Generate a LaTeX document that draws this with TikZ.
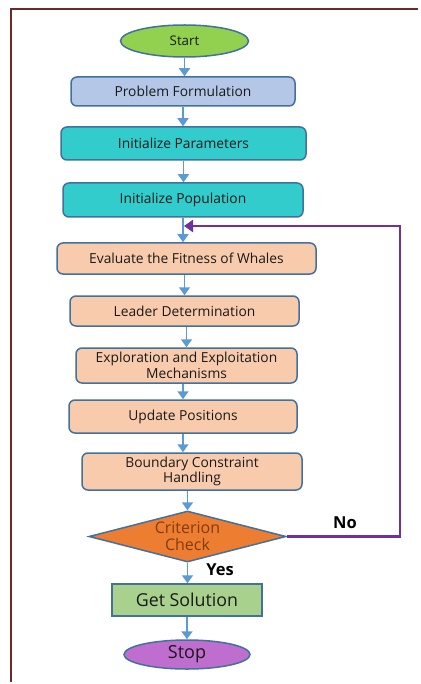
\documentclass[tikz,border=0pt]{standalone}
\usepackage{fontspec}
\setmainfont{Open Sans}
\usetikzlibrary{shapes.geometric,arrows.meta}
\definecolor{framec}{HTML}{6B2A2A}
\definecolor{edgec}{HTML}{41719C}
\definecolor{arrowc}{HTML}{5B9BD5}
\definecolor{startc}{HTML}{92D050}
\definecolor{pfc}{HTML}{B4C7E7}
\definecolor{tealc}{HTML}{33CCCC}
\definecolor{peachc}{HTML}{F8CBAD}
\definecolor{orangec}{HTML}{ED7D31}
\definecolor{greenc}{HTML}{A9D18E}
\definecolor{stopc}{HTML}{BF6DCF}
\definecolor{loopc}{HTML}{7030A0}
\definecolor{critc}{HTML}{843C0C}
\definecolor{textc}{HTML}{1A1A1A}
\tikzset{
  every node/.style={font=\fontsize{13.8}{16}\selectfont, text=textc, inner sep=0pt},
  box/.style={draw=edgec, line width=1.5pt, rounded corners=6pt, align=center},
  oval/.style={ellipse, draw=edgec, line width=1.5pt},
  flow/.style={draw=arrowc, line width=1.6pt, -{Triangle[length=8pt,width=11pt]}},
  loop/.style={draw=loopc, line width=2.6pt, -{Triangle[length=9pt,width=12pt]}},
  lbl/.style={font=\fontsize{16.5}{18}\selectfont\bfseries, text=black}
}
\begin{document}
\begin{tikzpicture}[x=1pt,y=-1pt]
\useasboundingbox (0,0) rectangle (420,684);
\fill[white] (0,0) rectangle (420,684);
\draw[framec, line width=1.5pt] (418,9) -- (11,9) -- (11,682);

\node[oval, fill=startc, minimum width=128pt, minimum height=32pt, font=\fontsize{13.3}{15}\selectfont] (start) at (184.5,41) {Start};
\node[box, fill=pfc, minimum width=224pt, minimum height=29pt] (pf) at (183,91.5) {Problem Formulation};
\node[box, fill=tealc, minimum width=245pt, minimum height=33pt] (ipar) at (183.5,143.5) {Initialize Parameters};
\node[box, fill=tealc, minimum width=240pt, minimum height=34pt] (ipop) at (183,200) {Initialize Population};
\node[box, fill=peachc, minimum width=259pt, minimum height=31pt] (eval) at (186.5,258.5) {Evaluate the Fitness of Whales};
\node[box, fill=peachc, minimum width=229pt, minimum height=30pt] (lead) at (184.5,311) {Leader Determination};
\node[box, fill=peachc, minimum width=221pt, minimum height=35pt, font=\fontsize{13.8}{15.5}\selectfont] (expl) at (186.5,365.5) {Exploration and Exploitation\\Mechanisms};
\node[box, fill=peachc, minimum width=228pt, minimum height=33pt] (upd) at (183,416.5) {Update Positions};
\node[box, fill=peachc, minimum width=220pt, minimum height=37pt, font=\fontsize{13.8}{15.5}\selectfont] (bound) at (192,471.5) {Boundary Constraint\\Handling};
\node[diamond, draw=edgec, line width=1.5pt, fill=orangec, minimum width=197pt, minimum height=51pt, aspect=3.9, align=center, text=critc, font=\fontsize{16}{17}\selectfont] (crit) at (187.5,536.5) {Criterion\\Check};
\node[draw=edgec, line width=1.5pt, fill=greenc, minimum width=150pt, minimum height=32pt, font=\fontsize{17.8}{19}\selectfont] (sol) at (187,600) {Get Solution};
\node[oval, fill=stopc, minimum width=126pt, minimum height=29pt, font=\fontsize{18}{19}\selectfont] (stop) at (187,654.5) {Stop};

\draw[flow] (start.south) -- (start.south |- pf.north);
\draw[flow] (pf.south) -- (pf.south |- ipar.north);
\draw[flow] (ipar.south) -- (ipar.south |- ipop.north);
\draw[draw=arrowc, line width=1.6pt] (ipop.south) -- (ipop.south |- 0,226) coordinate (join);
\draw[flow] (join) -- (join |- eval.north);
\draw[flow] (lead.north |- eval.south) -- (lead.north);
\draw[flow] (expl.north |- lead.south) -- (expl.north);
\draw[flow] (upd.north |- expl.south) -- (upd.north);
\draw[flow] (upd.south) -- (upd.south |- bound.north);
\draw[flow] (crit.north |- bound.south) -- (crit.north);
\draw[flow] (crit.south) -- (crit.south |- sol.north);
\draw[flow] (sol.south) -- (sol.south |- stop.north);

\coordinate (rt) at (400,226);
\draw[loop] (crit.east) -- (crit.east -| rt) -- (rt) -- ([xshift=1pt]join);

\node[lbl] (no) at (345,523) {No};
\node[lbl] (yes) at (220,570) {Yes};
\end{tikzpicture}
\end{document}
